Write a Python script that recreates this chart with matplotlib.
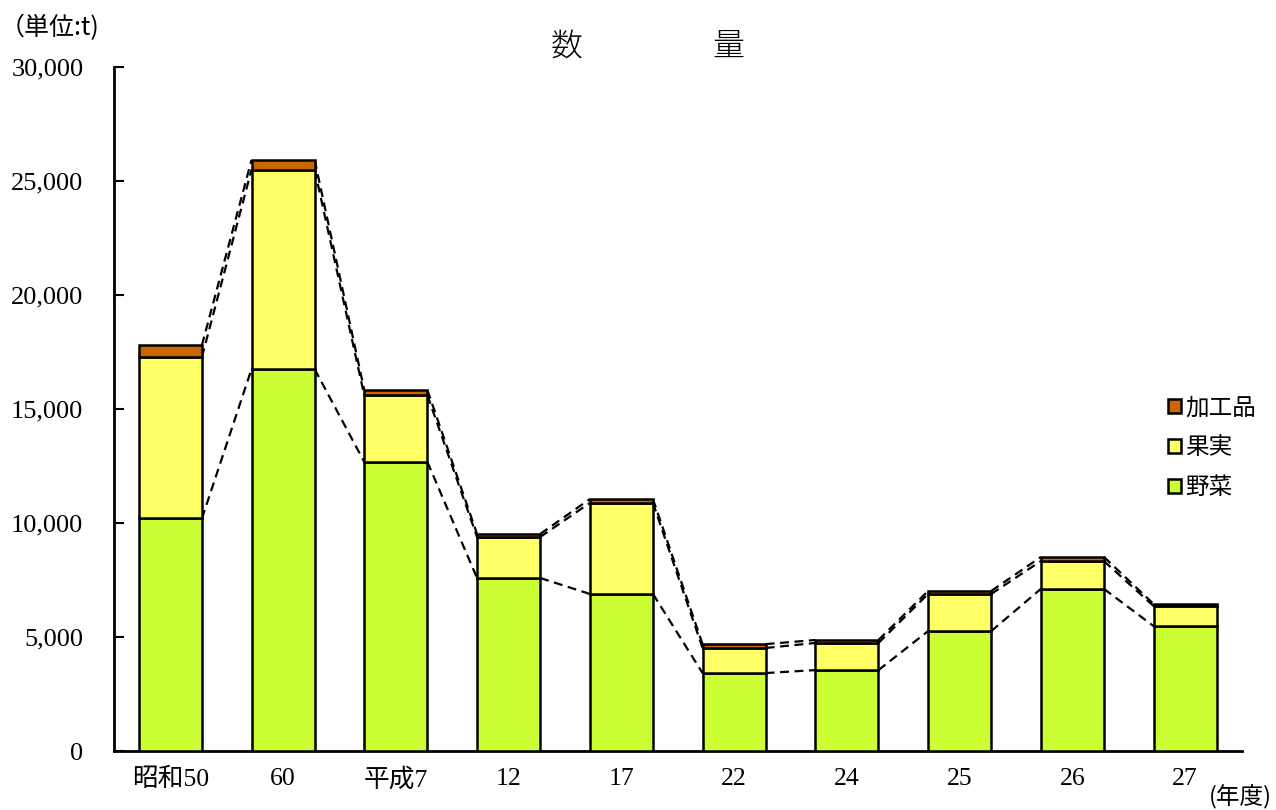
import matplotlib
matplotlib.use("Agg")
import matplotlib.pyplot as plt
import numpy as np
from matplotlib.patches import Patch

plt.rcParams['font.family'] = ['Noto Sans CJK JP', 'DejaVu Sans']

categories = ['昭和50', '60', '平成7', '12', '17', '22', '24', '25', '26', '27']
vegetables = [10200, 16750, 12680, 7590, 6890, 3420, 3550, 5260, 7110, 5480]
fruits = [7080, 8750, 2920, 1800, 3990, 1100, 1190, 1630, 1220, 880]
processed = [520, 420, 230, 130, 170, 170, 130, 130, 180, 90]

colors = {'野菜': '#CCFF33', '果実': '#FFFF66', '加工品': '#CC6600'}

fig = plt.figure(figsize=(12.76, 8.10), dpi=100)
ax = fig.add_axes([0.0893, 0.0728, 0.8837, 0.8444])

x = np.arange(len(categories))
w = 0.56
veg = np.array(vegetables)
fru = np.array(fruits)
pro = np.array(processed)

ax.bar(x, veg, w, color=colors['野菜'], edgecolor='black', linewidth=1.8, zorder=3)
ax.bar(x, fru, w, bottom=veg, color=colors['果実'], edgecolor='black', linewidth=1.8, zorder=3)
ax.bar(x, pro, w, bottom=veg + fru, color=colors['加工品'], edgecolor='black', linewidth=1.8, zorder=3)

# series lines
tops = [veg, veg + fru, veg + fru + pro]
for t in tops:
    for i in range(len(x) - 1):
        ax.plot([x[i] + w / 2, x[i + 1] - w / 2], [t[i], t[i + 1]],
                color='black', linestyle=(0, (4, 2.5)), linewidth=1.6, zorder=2)

ax.set_xlim(-0.5, len(x) - 0.5)
ax.set_ylim(0, 30000)
ax.set_yticks(np.arange(0, 30001, 5000))
ax.set_yticklabels([f'{v:,}' for v in range(0, 30001, 5000)],
                   family=['Liberation Serif', 'DejaVu Serif'], fontsize=19)
ax.tick_params(axis='y', direction='in', length=7, width=1.5, pad=22)
ax.tick_params(axis='x', length=0, pad=12)
ax.set_xticks(x)
ax.set_xticklabels(categories, fontsize=18.5)
for lbl in ax.get_xticklabels():
    lbl.set_fontfamily(['Liberation Serif', 'Noto Sans CJK JP'])

for s in ['top', 'right']:
    ax.spines[s].set_visible(False)
ax.spines['left'].set_linewidth(2)
ax.spines['bottom'].set_linewidth(2)

fig.text(0.444, 0.942, '数', ha='center', va='center', fontsize=23, fontweight='light')
fig.text(0.571, 0.942, '量', ha='center', va='center', fontsize=23, fontweight='light')
fig.text(0.0, 0.965, '（単位:t)', ha='left', va='center', fontsize=18)
fig.text(0.997, 0.016, '(年度)', ha='right', va='center', fontsize=17)

handles = [Patch(facecolor=colors[k], edgecolor='black', linewidth=1.8) for k in ['加工品', '果実', '野菜']]
leg = fig.legend(handles, ['加工品', '果実', '野菜'], loc='center left',
                 bbox_to_anchor=(0.915, 0.447), frameon=False, fontsize=17,
                 handlelength=0.55, handleheight=0.55, handletextpad=0.2, labelspacing=0.72,
                 borderaxespad=0, borderpad=0)

fig.savefig('out.png', dpi=100)
